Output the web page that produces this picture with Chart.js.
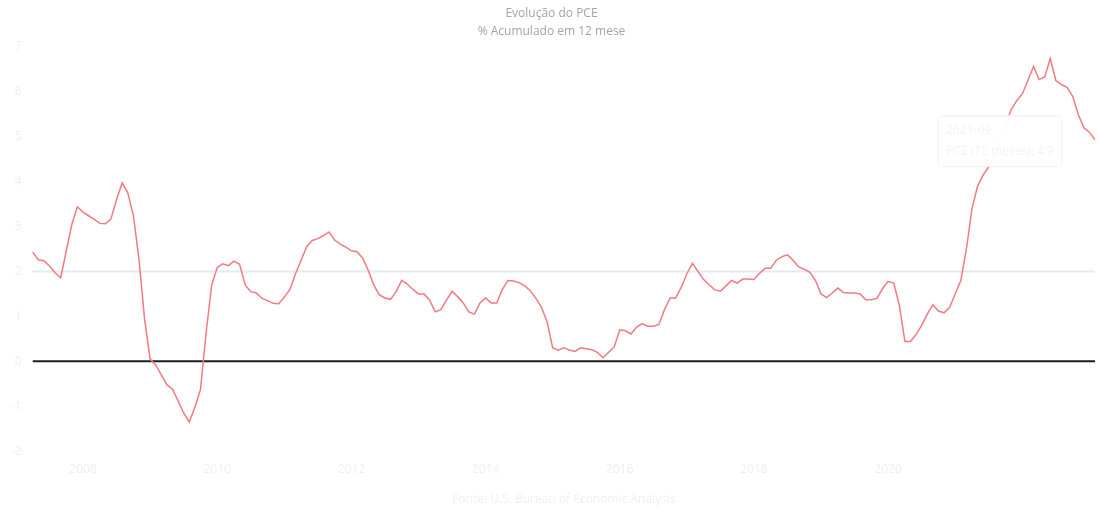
<!DOCTYPE html>
<html lang="pt-BR">
<head>
<meta charset="utf-8">
<title>Evolução do PCE</title>
<script src="https://cdn.jsdelivr.net/npm/chart.js@4/dist/chart.umd.min.js"></script>
<style>
  html, body { margin: 0; padding: 0; background: #ffffff; }
  #wrap { width: 1098px; height: 515px; }
</style>
</head>
<body>
<div id="wrap"><canvas id="pce"></canvas></div>
<script>
// Série mensal do PCE, % acumulado em 12 meses (abr/2007 – fev/2023)
const firstYear = 2007;
const firstMonth = 4;
const pceValues = [
  2.43, 2.26, 2.24, 2.12, 1.97, 1.86, 2.45, 3.05, 3.44, 3.32,
  3.24, 3.16, 3.07, 3.06, 3.17, 3.60, 3.97, 3.75, 3.25, 2.28,
  0.95, 0.05, -0.08, -0.30, -0.52, -0.62, -0.88, -1.15, -1.35, -1.02,
  -0.63, 0.62, 1.69, 2.09, 2.17, 2.13, 2.23, 2.16, 1.70, 1.55,
  1.52, 1.40, 1.35, 1.29, 1.28, 1.43, 1.60, 1.95, 2.25, 2.55,
  2.69, 2.73, 2.80, 2.88, 2.70, 2.61, 2.54, 2.46, 2.44, 2.30,
  2.03, 1.70, 1.48, 1.41, 1.38, 1.55, 1.80, 1.72, 1.60, 1.50,
  1.50, 1.36, 1.10, 1.15, 1.36, 1.56, 1.44, 1.30, 1.10, 1.05,
  1.30, 1.41, 1.30, 1.30, 1.60, 1.80, 1.79, 1.75, 1.68, 1.57,
  1.40, 1.20, 0.88, 0.30, 0.25, 0.30, 0.25, 0.22, 0.30, 0.28,
  0.26, 0.20, 0.08, 0.20, 0.32, 0.70, 0.68, 0.61, 0.76, 0.84,
  0.78, 0.78, 0.82, 1.15, 1.41, 1.41, 1.65, 1.95, 2.18, 2.00,
  1.82, 1.70, 1.59, 1.56, 1.68, 1.80, 1.74, 1.83, 1.83, 1.82,
  1.96, 2.07, 2.07, 2.25, 2.33, 2.37, 2.25, 2.10, 2.05, 1.98,
  1.80, 1.50, 1.42, 1.52, 1.63, 1.53, 1.52, 1.52, 1.50, 1.37,
  1.37, 1.40, 1.62, 1.78, 1.74, 1.25, 0.44, 0.44, 0.60, 0.80,
  1.05, 1.26, 1.12, 1.08, 1.20, 1.50, 1.80, 2.50, 3.40, 3.90,
  4.15, 4.33, 4.55, 4.90, 5.25, 5.60, 5.80, 5.95, 6.25, 6.56,
  6.27, 6.33, 6.74, 6.25, 6.16, 6.10, 5.90, 5.50, 5.20, 5.10,
  4.93
];
// Rótulos exibidos no eixo horizontal (janeiro de cada ano listado)
const yearTicks = ['2008', '2010', '2012', '2014', '2016', '2018', '2020'];
const targetRate = 2;   // meta de inflação
const zeroLevel = 0;

// Rótulos mensais AAAA-MM
const monthLabels = pceValues.map((_, i) => {
  const m0 = firstMonth - 1 + i;
  const y = firstYear + Math.floor(m0 / 12);
  const m = (m0 % 12) + 1;
  return y + '-' + String(m).padStart(2, '0');
});

const FONT = "'Open Sans', 'Segoe UI', 'DejaVu Sans', sans-serif";

const chart = new Chart(document.getElementById('pce'), {
  type: 'line',
  data: {
    labels: monthLabels,
    datasets: [
      {
        label: 'PCE (12 meses)',
        data: pceValues,
        borderColor: 'rgb(242, 122, 128)',
        backgroundColor: 'rgb(242, 122, 128)',
        borderWidth: 1.5,
        pointRadius: 0,
        tension: 0,
        order: 0
      },
      {
        label: 'Meta',
        data: monthLabels.map(() => targetRate),
        borderColor: 'rgba(120, 170, 200, 0.22)',
        borderWidth: 2,
        pointRadius: 0,
        order: 2
      },
      {
        label: 'Zero',
        data: monthLabels.map(() => zeroLevel),
        borderColor: '#1e1e1e',
        borderWidth: 2,
        pointRadius: 0,
        order: 1
      }
    ]
  },
  options: {
    responsive: true,
    maintainAspectRatio: false,
    animation: false,
    events: [],
    layout: { padding: { left: 8, right: 3, top: 0, bottom: 4 } },
    plugins: {
      legend: { display: false },
      title: {
        display: true,
        text: 'Evolução do PCE',
        color: '#a4a4a4',
        font: { family: FONT, size: 12, weight: 'normal' },
        padding: { top: 6, bottom: 4 }
      },
      subtitle: {
        display: true,
        text: '% Acumulado em 12 mese',
        color: '#a4a4a4',
        font: { family: FONT, size: 12, weight: 'normal' },
        padding: { top: 0, bottom: 8 }
      },
      tooltip: {
        enabled: true,
        backgroundColor: 'rgba(255,255,255,0.97)',
        borderColor: '#f0f0f0',
        borderWidth: 1,
        titleColor: '#f3f3f3',
        bodyColor: '#f3f3f3',
        titleFont: { family: FONT, size: 12, weight: 'normal' },
        bodyFont: { family: FONT, size: 12 },
        displayColors: false,
        caretSize: 0,
        xAlign: 'center',
        yAlign: 'center',
        padding: 8
      }
    },
    scales: {
      x: {
        grid: { display: false },
        border: { display: false },
        ticks: {
          autoSkip: false,
          maxRotation: 0,
          color: '#efefef',
          font: { family: FONT, size: 12 },
          callback: function (value, index) {
            const lab = monthLabels[index];
            const y = lab.slice(0, 4);
            return (lab.endsWith('-01') && yearTicks.includes(y)) ? y : '';
          }
        },
        title: {
          display: true,
          text: 'Fonte: U.S. Bureau of Economic Analysis',
          color: '#f0f0f0',
          font: { family: FONT, size: 12 },
          padding: { top: 13, bottom: 4 }
        }
      },
      y: {
        min: -2,
        max: 7,
        grid: { display: false },
        border: { display: false },
        ticks: {
          stepSize: 1,
          color: '#efefef',
          font: { family: FONT, size: 12 }
        }
      }
    }
  }
});

// Destaque do ponto de set/2021 em caixa de informação
const focusIndex = monthLabels.indexOf('2021-09');
chart.tooltip.setActiveElements([{ datasetIndex: 0, index: focusIndex }], { x: 0, y: 0 });
chart.draw();
</script>
</body>
</html>
